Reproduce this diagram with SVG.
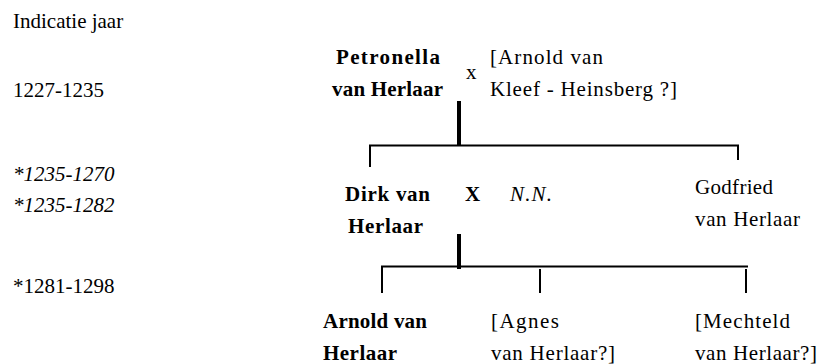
<svg xmlns="http://www.w3.org/2000/svg" width="822" height="364" viewBox="0 0 822 364">
<style>
.t{font-size:21px;fill:#000}
.b{font-weight:bold}
.i{font-style:italic}
.thin{stroke:#000;stroke-width:2;fill:none}
.thick{stroke:#000;stroke-width:4;fill:none}
</style>
<rect width="822" height="364" fill="#fff"/>
<g id="years">
<text font-family="Liberation Serif" class="t" x="13" y="28">Indicatie jaar</text>
<text font-family="Liberation Serif" class="t" x="13" y="97">1227-1235</text>
<text font-family="Liberation Serif" class="t i" x="13" y="181">*1235-1270</text>
<text font-family="Liberation Serif" class="t i" x="13" y="212">*1235-1282</text>
<text font-family="Liberation Serif" class="t" x="13" y="293">*1281-1298</text>
</g>
<g id="petronella">
<text font-family="Liberation Serif" class="t b" x="388" y="64" text-anchor="middle" textLength="104" lengthAdjust="spacing">Petronella</text>
<text font-family="Liberation Serif" class="t b" x="332" y="96" textLength="111" lengthAdjust="spacing">van Herlaar</text>
</g>
<g id="marriage1"><text font-family="Liberation Serif" class="t" x="466" y="79">x</text></g>
<g id="arnold-kleef">
<text font-family="Liberation Serif" class="t" x="490" y="64" textLength="113" lengthAdjust="spacing">[Arnold van</text>
<text font-family="Liberation Serif" class="t" x="490" y="96" textLength="187" lengthAdjust="spacing">Kleef - Heinsberg ?]</text>
</g>
<g id="dirk">
<text font-family="Liberation Serif" class="t b" x="345" y="201" textLength="85" lengthAdjust="spacing">Dirk van</text>
<text font-family="Liberation Serif" class="t b" x="348" y="233" textLength="75" lengthAdjust="spacing">Herlaar</text>
</g>
<g id="marriage2"><text font-family="Liberation Serif" class="t b" x="465" y="201">X</text></g>
<g id="nn"><text font-family="Liberation Serif" class="t i" x="510" y="201" textLength="42" lengthAdjust="spacing">N.N.</text></g>
<g id="godfried">
<text font-family="Liberation Serif" class="t" x="695" y="194" textLength="78" lengthAdjust="spacing">Godfried</text>
<text font-family="Liberation Serif" class="t" x="695" y="226" textLength="105" lengthAdjust="spacing">van Herlaar</text>
</g>
<g id="arnold">
<text font-family="Liberation Serif" class="t b" x="323" y="328" textLength="104" lengthAdjust="spacing">Arnold van</text>
<text font-family="Liberation Serif" class="t b" x="323" y="360" textLength="74" lengthAdjust="spacing">Herlaar</text>
</g>
<g id="agnes">
<text font-family="Liberation Serif" class="t" x="491" y="328" textLength="68" lengthAdjust="spacing">[Agnes</text>
<text font-family="Liberation Serif" class="t" x="491" y="360" textLength="124" lengthAdjust="spacing">van Herlaar?]</text>
</g>
<g id="mechteld">
<text font-family="Liberation Serif" class="t" x="695" y="328" textLength="95" lengthAdjust="spacing">[Mechteld</text>
<text font-family="Liberation Serif" class="t" x="695" y="360" textLength="122" lengthAdjust="spacing">van Herlaar?]</text>
</g>
<g id="connectors">
<line class="thick" x1="459" y1="101" x2="459" y2="146"/>
<line class="thin" x1="369" y1="145.5" x2="739" y2="145.5"/>
<line class="thin" x1="370" y1="145" x2="370" y2="167"/>
<line class="thin" x1="738" y1="145" x2="738" y2="160"/>
<line class="thick" x1="459" y1="234" x2="459" y2="269"/>
<line class="thin" x1="381" y1="266.5" x2="748" y2="266.5"/>
<line class="thin" x1="382" y1="266" x2="382" y2="293"/>
<line class="thin" x1="540" y1="269" x2="540" y2="293"/>
<line class="thin" x1="746" y1="269" x2="746" y2="293"/>
</g>
</svg>
